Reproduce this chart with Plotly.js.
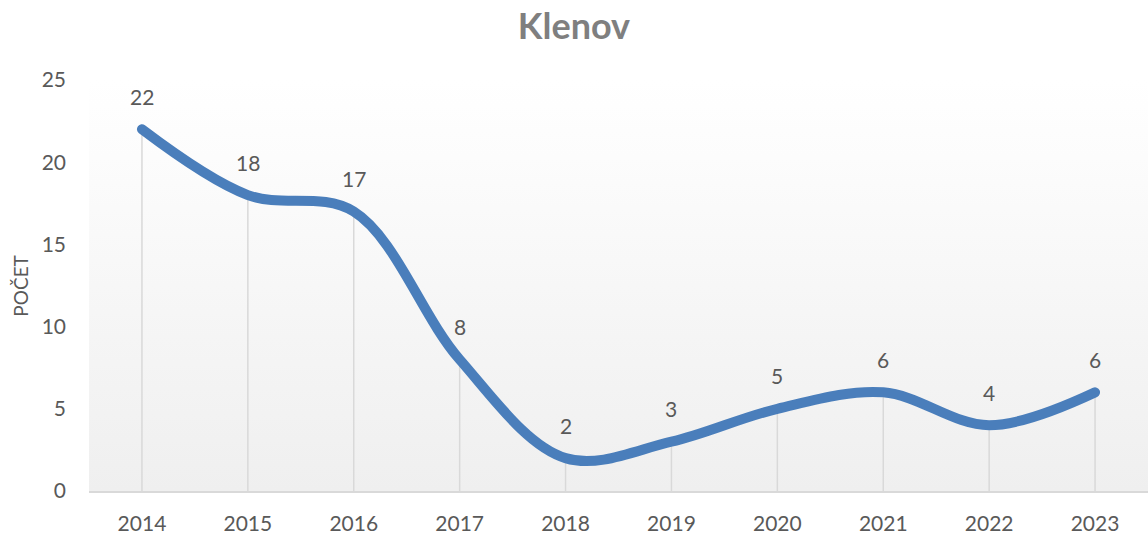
<!DOCTYPE html>
<html><head><meta charset="utf-8">
<script src="https://cdn.plot.ly/plotly-3.0.1.min.js"></script>
<style>html,body{margin:0;padding:0;background:#fff}#chart{width:1148px;height:534px}
#chart .scatterlayer .trace:last-child path.js-line{stroke-linecap:round}</style>
</head><body><div id="chart"></div>
<script>
const years = ['2014','2015','2016','2017','2018','2019','2020','2021','2022','2023'];
const counts = [22, 18, 17, 8, 2, 3, 5, 6, 4, 6];
const chartTitle = 'Klenov';
const yTitle = 'POČET';

const dropX = [], dropY = [];
years.forEach((y, i) => { dropX.push(y, y, null); dropY.push(0, counts[i], null); });

const grad = 'data:image/svg+xml;utf8,' + encodeURIComponent(
 '<svg xmlns="http://www.w3.org/2000/svg" width="100" height="100" preserveAspectRatio="none"><defs><linearGradient id="g" x1="0" y1="0" x2="0" y2="1"><stop offset="0" stop-color="#ffffff"/><stop offset="1" stop-color="#efefef"/></linearGradient></defs><rect width="100" height="100" fill="url(#g)"/></svg>');

const font = 'Lato, "Open Sans", sans-serif';
const traces = [
  {x: dropX, y: dropY, mode: 'lines', line: {color: '#d9d9d9', width: 1.5}, hoverinfo: 'skip', showlegend: false},
  {x: years, y: counts, mode: 'lines', line: {color: '#4a7ebb', width: 10, shape: 'spline', smoothing: 1}, showlegend: false}
];
const annotations = years.map((y, i) => ({x: i, y: counts[i], text: String(counts[i]), showarrow: false, yshift: 33,
  font: {family: font, size: 21, color: '#595959'}}));
annotations.push({xref: 'paper', yref: 'paper', x: -0.065, y: 0.5, xanchor: 'center', yanchor: 'middle', textangle: -90,
  text: yTitle, showarrow: false, font: {family: font, size: 19, color: '#595959'}});

const layout = {
  width: 1148, height: 534,
  margin: {l: 89, r: 0, t: 80, b: 43},
  paper_bgcolor: '#ffffff', plot_bgcolor: 'rgba(0,0,0,0)',
  title: {text: '<b>' + chartTitle + '</b>', x: 0.5, xanchor: 'center', y: 0.95, yanchor: 'middle', font: {family: font, size: 36, color: '#7f7f7f'}},
  images: [{source: grad, xref: 'paper', yref: 'paper', x: 0, y: 1, sizex: 1, sizey: 1, sizing: 'stretch', layer: 'below'}],
  xaxis: {type: 'category', range: [-0.5, 9.5], showgrid: false, zeroline: false, showline: true, linecolor: '#d9d9d9', linewidth: 1.5,
    ticks: '', ticklabelstandoff: 13, tickfont: {family: font, size: 21, color: '#595959'}, fixedrange: true},
  yaxis: {range: [0, 25], tickvals: [0,5,10,15,20,25], showgrid: false, zeroline: false, showline: false, ticks: '',
    ticklabelstandoff: 22, tickfont: {family: font, size: 21, color: '#595959'}, fixedrange: true},
  annotations: annotations
};
Plotly.newPlot('chart', traces, layout, {displayModeBar: false, staticPlot: true});
</script></body></html>
